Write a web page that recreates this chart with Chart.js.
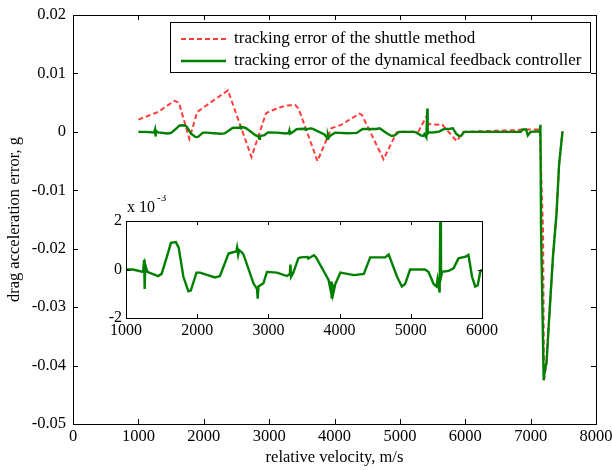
<!DOCTYPE html>
<html>
<head>
<meta charset="utf-8">
<script src="https://cdn.jsdelivr.net/npm/chart.js@4.4.0/dist/chart.umd.min.js"></script>
<style>
  html, body { margin: 0; padding: 0; background: #fff; }
  #wrap { position: relative; width: 612px; height: 470px; }
  #main { position: absolute; left: 0; top: 0; }
  #inset { position: absolute; left: 80px; top: 195px; }
</style>
</head>
<body>
<div id="wrap">
  <canvas id="main" width="612" height="470"></canvas>
  <canvas id="inset" width="420" height="150"></canvas>
</div>
<script>
// tracking error of the shuttle method (red dashed)
const shuttleVel = [1000, 1300, 1550, 1620, 1780, 1900, 2100, 2370, 2730, 2950, 3000, 3250, 3400, 3450,
  3740, 3950, 4100, 4380, 4420, 4750, 4950, 5000, 5280, 5410, 5440, 5650, 5870, 5970,
  6500, 6800, 6870, 7140, 7190, 7205, 7243, 7294, 7344, 7396, 7436, 7488];
const shuttleErr = [0.0021, 0.0034, 0.0053, 0.0050, -0.0012, 0.0034, 0.0050, 0.0071, -0.0043, 0.0031, 0.0035, 0.0045, 0.0046, 0.0040,
  -0.0050, 0.0006, 0.0012, 0.0031, 0.0029, -0.0047, -0.0001, 0.0000, 0.0000, 0.0027, 0.0013, 0.0012, -0.0016, 0.0000,
  0.0002, 0.0003, 0.0004, 0.0004, -0.0170, -0.0425, -0.0395, -0.0300, -0.0210, -0.0140, -0.0055, 0.0001];

// tracking error of the dynamical feedback controller (green solid)
const dfcVel = [1000, 1100, 1240, 1255, 1262, 1270, 1300, 1450, 1500, 1595, 1630, 1700, 1740, 1806, 1876, 1910,
  1990, 2040, 2250, 2320, 2440, 2490, 2550, 2560, 2575, 2590, 2630, 2650, 2790, 2840, 2850, 2860, 2930, 2980,
  3120, 3260, 3300, 3310, 3318, 3350, 3420, 3450, 3550, 3560, 3640, 3670, 3845, 3870, 3880, 3890, 3900, 3910,
  3940, 4010, 4200, 4340, 4430, 4640, 4690, 4805, 4875, 4920, 4990, 5200, 5250, 5320, 5360, 5375, 5405, 5420,
  5425, 5440, 5530, 5600, 5670, 5770, 5810, 5860, 5905, 5940, 5975, 6000, 6480, 6850, 6880, 6930, 6957, 7000,
  7140, 7150, 7160, 7200, 7215, 7243, 7294, 7344, 7396, 7436, 7488];
const dfcErr = [0.0000, 0.0000, -0.0001, 0.0004, -0.0008, 0.0002, -0.0001, -0.00027, -0.00018, 0.00073, 0.0011, 0.00113, 0.0009, -0.0003, -0.0009, -0.00087,
  -0.00013, -0.00013, -0.00033, -0.00027, 0.00066, 0.0007, 0.00075, 0.0009, 0.0006, 0.0008, 0.0007, 0.00062, -0.00057, -0.0008, -0.0012, -0.0007, -0.00057, -0.0001,
  -0.00013, -0.00027, -0.0002, 0.0002, -0.0003, -0.00013, 0.00046, 0.0005, 0.00052, 0.00045, 0.00059, 0.0005, -0.00043, -0.0008, -0.0005, -0.0012, -0.0006, -0.0010,
  -0.0006, -0.00013, -0.00023, -0.00018, 0.0005, 0.0005, 0.00062, -0.00029, -0.0007, -0.0006, 0.0000, 0.0000, -0.0001, -0.0006, -0.0007, -0.0004, -0.00095, 0.0040,
  -0.0003, -0.0001, -0.00006, 0.00005, 0.00046, 0.00053, 0.0006, -0.0003, -0.0007, -0.00065, -0.0001, 0.0000, 0.0000, 0.0000, 0.0004, 0.0004, -0.0006, 0.0000,
  0.0001, 0.0012, -0.0170, -0.0425, -0.0410, -0.0395, -0.0300, -0.0210, -0.0140, -0.0055, 0.0001];

const seriesLabels = ['tracking error of the shuttle method', 'tracking error of the dynamical feedback controller'];

const mainXRange = [0, 8000];
const mainYRange = [-0.05, 0.02];
const insetXRange = [1000, 6000];
const insetYRange = [-0.002, 0.002];

const RED = '#ff3b3b';
const GREEN = '#008000';
const FONT = 'Liberation Serif';

function toPoints(xs, ys) {
    return xs.map((v, i) => ({ x: v, y: ys[i] }));
}

// box with inward ticks on all four sides (matlab style)
const framePlugin = {
    id: 'frame',
    beforeDraw(chart, args, opts) {
        if (!opts.fill) return;
        const a = chart.chartArea;
        chart.ctx.save();
        chart.ctx.fillStyle = '#fff';
        chart.ctx.fillRect(a.left, a.top, a.right - a.left, a.bottom - a.top);
        chart.ctx.restore();
    },
    afterDraw(chart, args, opts) {
        const { ctx, chartArea: a, scales } = chart;
        const len = opts.len || 5;
        ctx.save();
        ctx.strokeStyle = '#000';
        ctx.lineWidth = 1;
        ctx.strokeRect(Math.round(a.left) + 0.5, Math.round(a.top) + 0.5,
            Math.round(a.right - a.left), Math.round(a.bottom - a.top));
        ctx.beginPath();
        scales.x.ticks.forEach(t => {
            const px = Math.round(scales.x.getPixelForValue(t.value)) + 0.5;
            ctx.moveTo(px, a.bottom); ctx.lineTo(px, a.bottom - len);
            ctx.moveTo(px, a.top); ctx.lineTo(px, a.top + len);
        });
        scales.y.ticks.forEach(t => {
            const py = Math.round(scales.y.getPixelForValue(t.value)) + 0.5;
            ctx.moveTo(a.left, py); ctx.lineTo(a.left + len, py);
            ctx.moveTo(a.right, py); ctx.lineTo(a.right - len, py);
        });
        ctx.stroke();
        ctx.restore();
    }
};

// legend box drawn inside the plot
const boxLegend = {
    id: 'boxLegend',
    afterDraw(chart) {
        const ctx = chart.ctx;
        const bx = 170, by = 22, bw = 420, bh = 50;
        ctx.save();
        ctx.fillStyle = '#fff';
        ctx.fillRect(bx, by, bw, bh);
        ctx.strokeStyle = '#000';
        ctx.lineWidth = 1;
        ctx.strokeRect(bx + 0.5, by + 0.5, bw, bh);
        const rows = [39, 61];
        chart.data.datasets.forEach((ds, i) => {
            ctx.strokeStyle = ds.borderColor;
            ctx.lineWidth = ds.borderWidth;
            ctx.setLineDash(ds.borderDash || []);
            ctx.beginPath();
            ctx.moveTo(181, rows[i]);
            ctx.lineTo(226, rows[i]);
            ctx.stroke();
            ctx.setLineDash([]);
            ctx.fillStyle = '#000';
            ctx.font = '17px "' + FONT + '"';
            ctx.textBaseline = 'middle';
            ctx.fillText(seriesLabels[i], 234, rows[i]);
        });
        ctx.restore();
    }
};

// "x 10^-3" multiplier above inset
const expLabel = {
    id: 'expLabel',
    afterDraw(chart) {
        const ctx = chart.ctx;
        const a = chart.chartArea;
        ctx.save();
        ctx.fillStyle = '#000';
        ctx.textBaseline = 'middle';
        ctx.font = '16px "' + FONT + '"';
        ctx.fillText('x 10', a.left + 1, a.top - 13);
        ctx.font = '11px "' + FONT + '"';
        ctx.fillText('-3', a.left + 31, a.top - 23);
        ctx.restore();
    }
};

const tickFont = { family: FONT, size: 16.5 };
const insetFont = { family: FONT, size: 16 };

new Chart(document.getElementById('main'), {
    type: 'line',
    data: {
        datasets: [
            {
                label: seriesLabels[0],
                data: toPoints(shuttleVel, shuttleErr),
                borderColor: RED,
                borderWidth: 2,
                borderDash: [5, 3],
                pointRadius: 0,
                order: 2
            },
            {
                label: seriesLabels[1],
                data: toPoints(dfcVel, dfcErr),
                borderColor: GREEN,
                borderWidth: 2.4,
                pointRadius: 0,
                order: 1
            }
        ]
    },
    options: {
        responsive: false,
        animation: false,
        devicePixelRatio: 1,
        layout: { padding: { left: 0, right: 16, top: 15, bottom: 0 } },
        plugins: {
            legend: { display: false },
            tooltip: { enabled: false },
            frame: { len: 5 }
        },
        scales: {
            x: {
                type: 'linear',
                min: mainXRange[0],
                max: mainXRange[1],
                ticks: {
                    stepSize: 1000,
                    color: '#000',
                    font: tickFont,
                    padding: 3,
                    maxRotation: 0,
                    callback: v => String(v)
                },
                grid: { display: false, drawTicks: false },
                border: { display: false },
                title: {
                    display: true,
                    text: 'relative velocity, m/s',
                    color: '#000',
                    font: tickFont,
                    padding: { top: 0, bottom: 2 }
                },
                afterFit(scale) {
                    scale.height = 46;
                    scale.paddingLeft = 0;
                    scale.paddingRight = 0;
                }
            },
            y: {
                type: 'linear',
                min: mainYRange[0],
                max: mainYRange[1],
                ticks: {
                    stepSize: 0.01,
                    color: '#000',
                    font: tickFont,
                    padding: 7,
                    callback: v => {
                        const r = Math.round(v * 100) / 100;
                        return r === 0 ? '0' : r.toFixed(2);
                    }
                },
                grid: { display: false, drawTicks: false },
                border: { display: false },
                title: {
                    display: true,
                    text: 'drag acceleration error, g',
                    color: '#000',
                    font: tickFont,
                    padding: { top: 5, bottom: 0 }
                },
                afterFit(scale) {
                    scale.width = 73;
                    scale.paddingTop = 0;
                    scale.paddingBottom = 0;
                }
            }
        }
    },
    plugins: [framePlugin, boxLegend]
});

new Chart(document.getElementById('inset'), {
    type: 'line',
    data: {
        datasets: [{
            data: toPoints(dfcVel, dfcErr),
            borderColor: GREEN,
            borderWidth: 2.4,
            pointRadius: 0
        }]
    },
    options: {
        responsive: false,
        animation: false,
        devicePixelRatio: 1,
        layout: { padding: { left: 0, right: 18, top: 26, bottom: 0 } },
        plugins: {
            legend: { display: false },
            tooltip: { enabled: false },
            frame: { len: 4, fill: true }
        },
        scales: {
            x: {
                type: 'linear',
                min: insetXRange[0],
                max: insetXRange[1],
                ticks: {
                    stepSize: 1000,
                    color: '#000',
                    font: insetFont,
                    padding: 3,
                    maxRotation: 0,
                    callback: v => String(v)
                },
                grid: { display: false, drawTicks: false },
                border: { display: false },
                afterFit(scale) {
                    scale.height = 27;
                    scale.paddingLeft = 0;
                    scale.paddingRight = 0;
                }
            },
            y: {
                type: 'linear',
                min: insetYRange[0],
                max: insetYRange[1],
                ticks: {
                    stepSize: 0.002,
                    color: '#000',
                    font: insetFont,
                    padding: 4,
                    callback: v => String(Math.round(v * 1000))
                },
                grid: { display: false, drawTicks: false },
                border: { display: false },
                afterFit(scale) {
                    scale.width = 46;
                    scale.paddingTop = 0;
                    scale.paddingBottom = 0;
                }
            }
        }
    },
    plugins: [framePlugin, expLabel]
});
</script>
</body>
</html>
